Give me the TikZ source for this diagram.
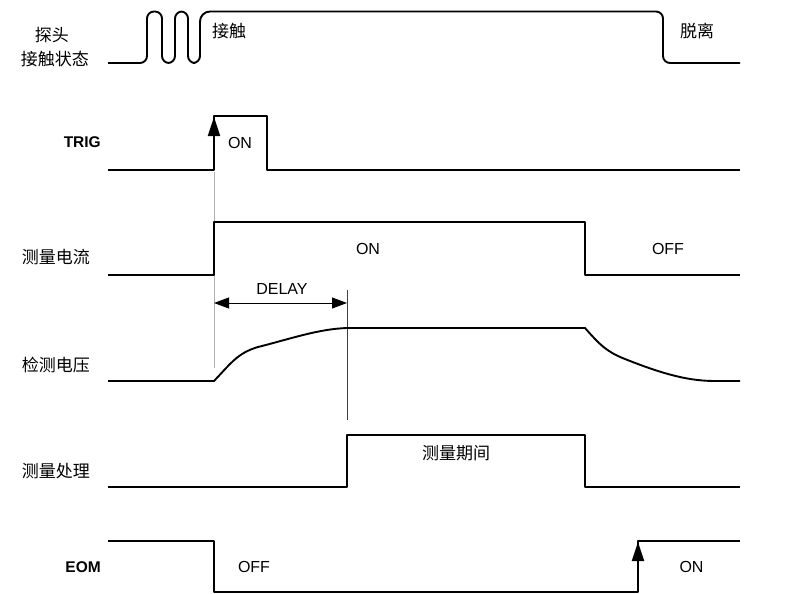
\documentclass[tikz,border=0pt]{standalone}
\usepackage{fontspec}
\setmainfont{Liberation Sans}
\newfontfamily\cjk{Noto Sans CJK SC}
\usetikzlibrary{arrows.meta}
\begin{document}
\begin{tikzpicture}[x=1pt,y=-1pt,
  wave/.style={line width=1.9pt,line join=round},
  guide/.style={line width=0.8pt,gray!60},
  guidedark/.style={line width=0.8pt,black!75},
  cn/.style={font=\cjk\fontsize{17}{19}\selectfont,inner sep=0pt},
  lab/.style={font=\fontsize{16}{18}\selectfont,inner sep=0pt},
  blab/.style={font=\bfseries\fontsize{15.5}{17}\selectfont,inner sep=0pt},
  uparrow/.style={line width=1.9pt,-{Triangle[length=19pt,width=12pt]}},
  dimarrow/.style={line width=0.9pt,{Triangle[length=15pt,width=11pt]}-{Triangle[length=15pt,width=11pt]}}]
\useasboundingbox (0,0) rectangle (795,594);
\fill[white] (0,0) rectangle (795,594);

% labels
\node[cn,anchor=east] (l1a) at (69,35) {探头};
\node[cn,anchor=east] (l1b) at (89,59) {接触状态};
\node[blab,anchor=east] (l2) at (101,142.5) {TRIG};
\node[cn,anchor=east] (l3) at (90,257) {测量电流};
\node[cn,anchor=east] (l4) at (90,365) {检测电压};
\node[cn,anchor=east] (l5) at (90,471) {测量处理};
\node[blab,anchor=east] (l6) at (101,567) {EOM};

% probe state
\draw[wave,rounded corners=7pt] (108,63) -- (147,63) -- (147,11.5) -- (162,11.5) -- (162,63) -- (175,63) -- (175,11.5) -- (188,11.5) -- (188,63) -- (200,63) [rounded corners=10pt] -- (200,11.5) [rounded corners=7pt] -- (663,11.5) -- (663,63) -- (740,63);
\node[cn] (t1) at (229,31) {接触};
\node[cn] (t2) at (697,31) {脱离};

% TRIG
\draw[wave] (108,170) -- (214,170) -- (214,116) -- (267,116) -- (267,170) -- (740,170);
\draw[uparrow] (214,170) -- (214,117);
\node[lab] (t3) at (240,142.5) {ON};

% guide lines
\draw[guide] (214,172) -- (214,368);
\draw[guidedark] (347,290) -- (347,420);

% measurement current
\draw[wave] (108,275) -- (214,275) -- (214,222) -- (585,222) -- (585,275) -- (740,275);
\node[lab] (t4) at (368,249) {ON};
\node[lab] (t5) at (668,249) {OFF};

% DELAY
\coordinate (d1) at (214,303);
\coordinate (d2) at (347,303);
\draw[dimarrow] (d1) -- (d2);
\node[lab] (t6) at (282,288.5) {DELAY};

% detected voltage
\draw[wave] (108,381) -- (214,381) .. controls (232,362) and (238,353) .. (258,347) .. controls (290,339) and (318,329) .. (347,328) -- (585,328) .. controls (600,345) and (607,352) .. (625,359) .. controls (665,375) and (690,381) .. (715,381) -- (740,381);

% measurement processing
\draw[wave] (108,487) -- (347,487) -- (347,435) -- (585,435) -- (585,487) -- (740,487);
\node[cn] (t7) at (456,453) {测量期间};

% EOM
\draw[wave] (108,541) -- (214,541) -- (214,592) -- (638,592) -- (638,541) -- (740,541);
\draw[uparrow] (638,592) -- (638,542);
\node[lab] (t8) at (254,566.5) {OFF};
\node[lab] (t9) at (691.5,567) {ON};
\end{tikzpicture}
\end{document}
